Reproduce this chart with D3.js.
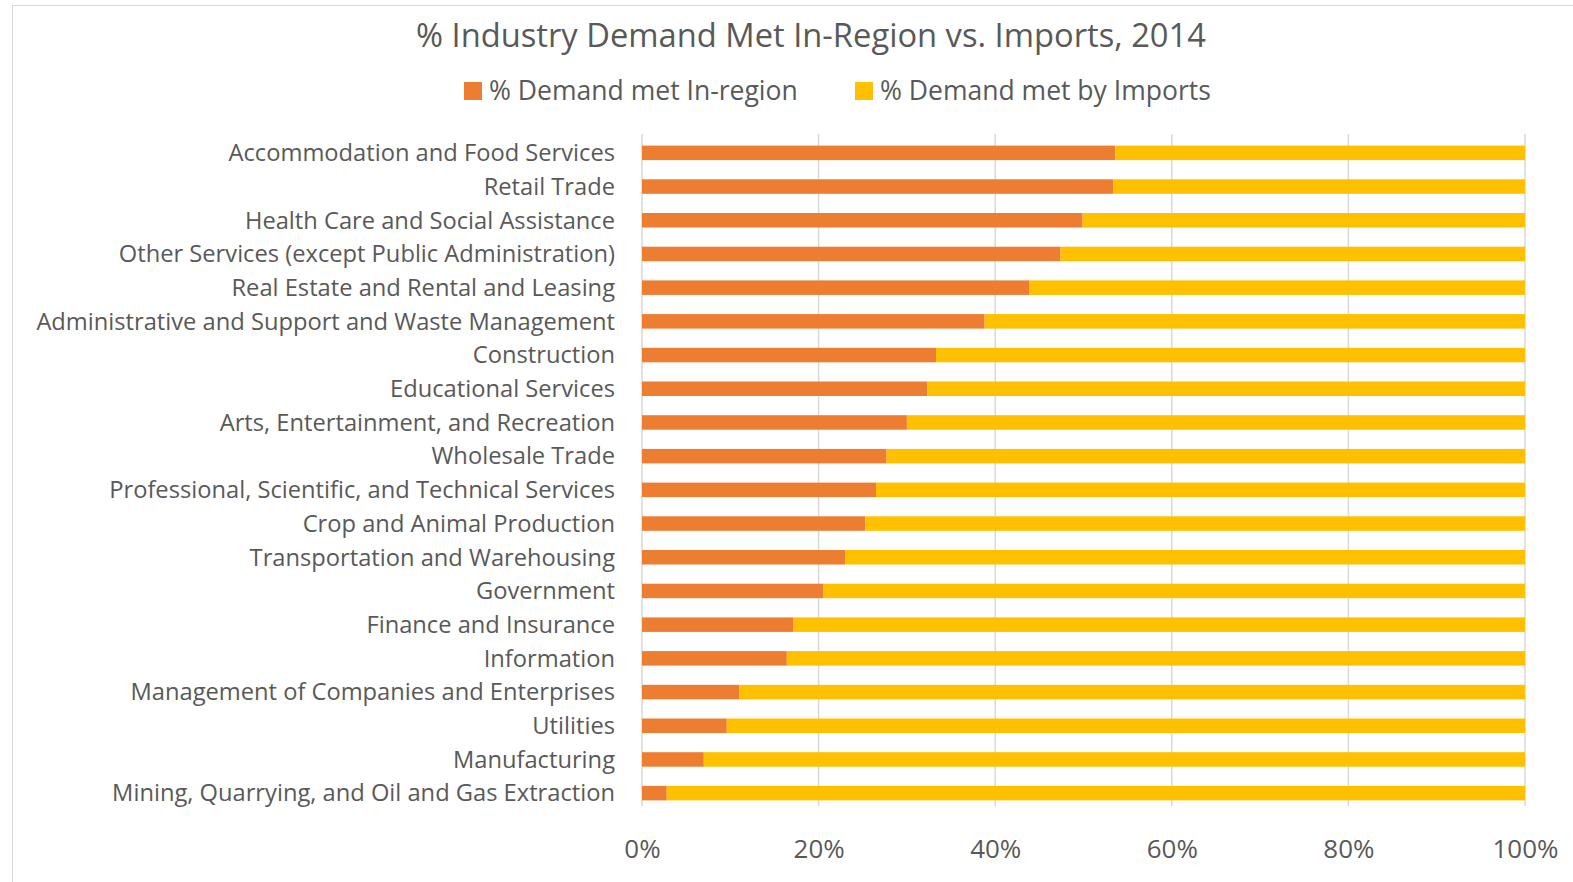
<!DOCTYPE html>
<html>
<head>
<meta charset="utf-8">
<script src="https://cdn.jsdelivr.net/npm/d3@7"></script>
<style>
  html, body { margin: 0; padding: 0; background: #fff; }
  svg { display: block; font-family: "Open Sans", "Noto Sans", sans-serif; }
</style>
</head>
<body>
<div id="chart"></div>
<script>
// Industry categories, top to bottom
const categories = [
    'Accommodation and Food Services',
    'Retail Trade',
    'Health Care and Social Assistance',
    'Other Services (except Public Administration)',
    'Real Estate and Rental and Leasing',
    'Administrative and Support and Waste Management',
    'Construction',
    'Educational Services',
    'Arts, Entertainment, and Recreation',
    'Wholesale Trade',
    'Professional, Scientific, and Technical Services',
    'Crop and Animal Production',
    'Transportation and Warehousing',
    'Government',
    'Finance and Insurance',
    'Information',
    'Management of Companies and Enterprises',
    'Utilities',
    'Manufacturing',
    'Mining, Quarrying, and Oil and Gas Extraction'
];

// % demand met in-region
const inRegion = [53.6, 53.4, 49.9, 47.4, 43.9, 38.8, 33.3, 32.3, 30.0, 27.7,
                  26.5, 25.3, 23.0, 20.5, 17.1, 16.4, 11.0, 9.6, 7.0, 2.8];
// % demand met by imports
const imports = inRegion.map(v => 100 - v);

const seriesNames = ['% Demand met In-region', '% Demand met by Imports'];
const seriesColors = ['#ED7D31', '#FFC000'];
const xTicks = [0, 20, 40, 60, 80, 100];

const width = 1573, height = 882;
const margin = { left: 642, right: 48, top: 136, bottom: 72 };

const svg = d3.select('#chart').append('svg')
    .attr('width', width)
    .attr('height', height);

// chart border (Excel chart area)
svg.append('rect')
    .attr('x', 12.5).attr('y', 5.5)
    .attr('width', 1600).attr('height', 900)
    .attr('fill', '#fff')
    .attr('stroke', '#d9d9d9');

const x = d3.scaleLinear().domain([0, 100]).range([margin.left, width - margin.right]);
const y = d3.scaleBand().domain(categories)
    .range([margin.top, height - margin.bottom])
    .paddingInner(0.57).paddingOuter(0.285);

// gridlines
svg.append('g')
    .selectAll('line')
    .data(xTicks)
    .join('line')
    .attr('x1', d => x(d)).attr('x2', d => x(d))
    .attr('y1', 134).attr('y2', 806)
    .attr('stroke', '#d9d9d9')
    .attr('stroke-width', 1.5);

// stacked bars
const rows = categories.map((c, i) => ({ cat: c, a: inRegion[i], b: imports[i] }));
const stack = d3.stack().keys(['a', 'b'])(rows);

svg.append('g')
    .selectAll('g')
    .data(stack)
    .join('g')
    .attr('fill', (d, i) => seriesColors[i])
    .selectAll('rect')
    .data(d => d)
    .join('rect')
    .attr('x', d => x(d[0]))
    .attr('y', d => y(d.data.cat))
    .attr('width', d => x(d[1]) - x(d[0]))
    .attr('height', y.bandwidth());

// helper: shrink/grow font so text spans a target width
function fitText(sel, target) {
    const w = sel.node().getComputedTextLength();
    const fs = parseFloat(sel.attr('font-size'));
    sel.attr('font-size', fs * target / w);
}

// category labels
const labels = svg.append('g')
    .selectAll('text')
    .data(categories)
    .join('text')
    .attr('x', 615)
    .attr('y', d => y(d) + y.bandwidth() / 2)
    .attr('dy', '0.35em')
    .attr('text-anchor', 'end')
    .attr('fill', '#595959')
    .attr('font-size', 20)
    .text(d => d);

const longest = labels.filter(d => d === 'Administrative and Support and Waste Management');
const lw = longest.node().getComputedTextLength();
labels.attr('font-size', 20 * 579 / lw);

// x tick labels
const xAxis = d3.axisBottom(x)
    .tickValues(xTicks)
    .tickFormat(d => d + '%')
    .tickSize(0)
    .tickPadding(0);

const ax = svg.append('g')
    .attr('transform', 'translate(0,840)')
    .call(xAxis);
ax.select('.domain').remove();
ax.selectAll('text')
    .attr('font-size', 23)
    .attr('fill', '#595959')
    .attr('font-family', '"Open Sans", "Noto Sans", sans-serif');
const t100 = ax.selectAll('text').filter(d => d === 100);
const tw = t100.node().getComputedTextLength();
ax.selectAll('text').attr('font-size', 23 * 66 / tw);

// title
const title = svg.append('text')
    .attr('x', 811)
    .attr('y', 47)
    .attr('text-anchor', 'middle')
    .attr('fill', '#595959')
    .attr('font-size', 30)
    .text('% Industry Demand Met In-Region vs. Imports, 2014');
fitText(title, 790);

// legend
const legendX = [464, 855];
const legend = svg.append('g')
    .selectAll('g')
    .data(seriesNames)
    .join('g')
    .attr('transform', (d, i) => `translate(${legendX[i]},0)`);

legend.append('rect')
    .attr('x', 0).attr('y', 82)
    .attr('width', 18).attr('height', 18)
    .attr('fill', (d, i) => seriesColors[i]);

legend.append('text')
    .attr('x', 25)
    .attr('y', 91)
    .attr('dy', '0.35em')
    .attr('fill', '#595959')
    .attr('font-size', 24)
    .text(d => d)
    .each(function(d, i) {
        const target = [309, 331][i];
        fitText(d3.select(this), target);
    });
</script>
</body>
</html>
